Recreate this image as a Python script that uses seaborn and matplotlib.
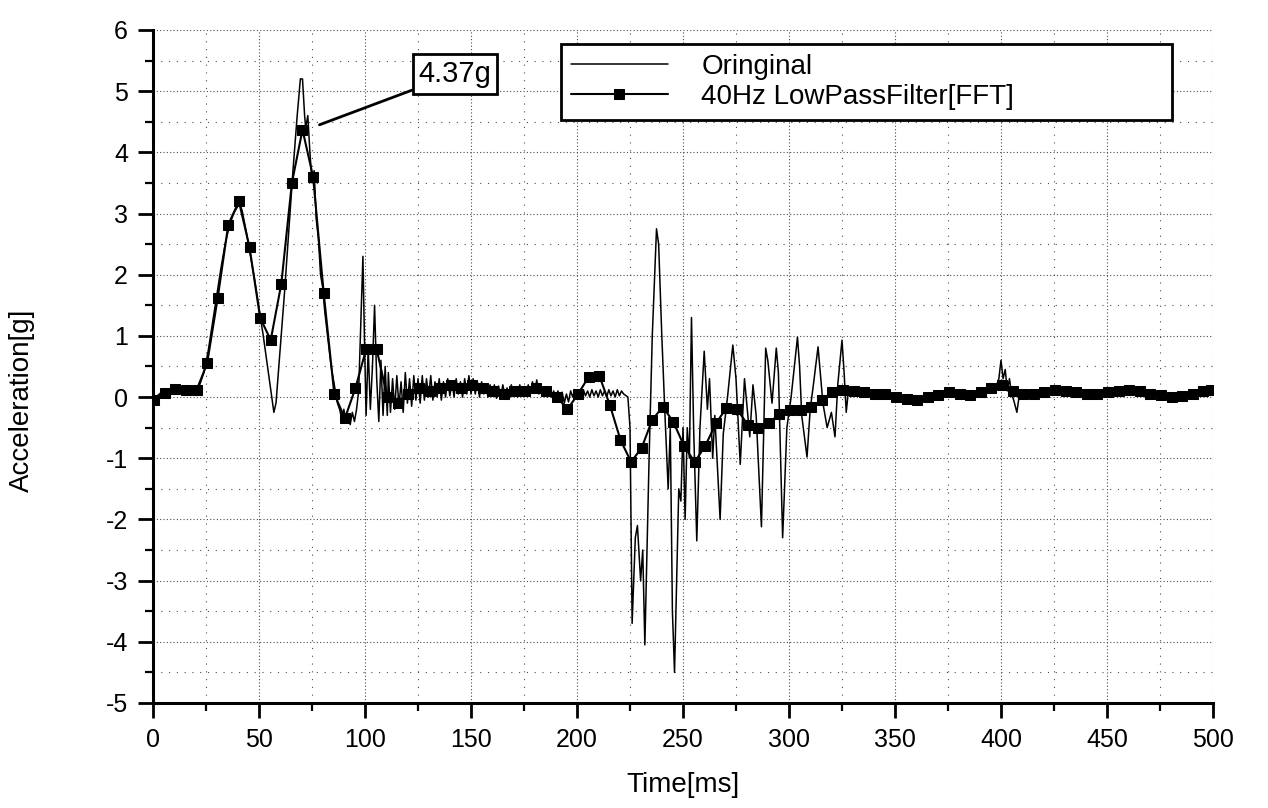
import numpy as np
import pandas as pd
import matplotlib
matplotlib.use("Agg")
import matplotlib.pyplot as plt
import seaborn as sns
from matplotlib.ticker import MultipleLocator

# ---------------- data ----------------
# Original signal, early part (0-110 ms)
early_t = [0, 1, 2, 4, 6, 8, 10, 12, 14, 16, 18, 20, 22, 24, 26, 28, 30, 32, 34, 36, 38, 40, 41, 42,
           44, 46, 48, 50, 52, 54, 56, 57, 58, 60, 62, 64, 66, 68, 69.5, 70.5, 71.5, 72, 73, 74, 75,
           76, 77, 78, 79, 80, 81, 82, 83, 84, 85, 86, 87, 88, 89, 90, 91, 92, 93, 94, 95, 96, 97,
           98, 99, 99.7, 100.5, 101.5, 102.5, 103.5, 104.5, 105.5, 106.5, 107.5, 108.5, 109.5, 110.5]
early_g = [-0.2, -0.05, 0.02, 0.08, 0.05, 0.1, 0.08, 0.12, 0.08, 0.1, 0.12, 0.12, 0.2, 0.4, 0.75,
           1.2, 1.65, 2.1, 2.5, 2.8, 3.0, 3.12, 3.15, 3.05, 2.7, 2.3, 1.9, 1.45, 1.0, 0.5, 0.0, -0.25,
           -0.1, 0.8, 1.7, 2.7, 3.7, 4.6, 5.2, 5.2, 4.6, 4.4, 4.6, 4.0, 3.5, 3.7, 2.9, 2.6, 2.0, 1.8,
           1.4, 1.1, 0.8, 0.5, 0.3, 0.1, -0.1, -0.2, -0.35, -0.2, -0.4, -0.3, -0.45, -0.25, -0.4,
           -0.2, 0.1, 1.2, 2.3, 1.0, -0.3, 0.8, -0.2, 0.5, 1.5, 0.3, -0.4, 0.6, -0.3, 0.5, -0.3]

# Original signal, ringing part (111-222 ms, 1 ms apart)
noise_t = np.arange(111, 223, 1.0)
noise_g = [0.4, -0.25, 0.3, -0.2, 0.35, -0.15, 0.25, -0.25, 0.4, -0.1, 0.3, -0.15, 0.35, -0.05, 0.3,
           -0.1, 0.35, -0.05, 0.3, 0.0,
           0.35, -0.05, 0.25, 0.0, 0.3, -0.05, 0.25, 0.0, 0.3, 0.02, 0.25, 0.0, 0.3, 0.05, 0.25, 0.0,
           0.3, 0.05, 0.35, 0.05,
           0.3, 0.05, 0.25, 0.0, 0.25, 0.05, 0.2, 0.0, 0.2, 0.05, 0.2, -0.02, 0.18, 0.0, 0.2, 0.02,
           0.15, 0.0, 0.2, 0.03,
           0.15, 0.0, 0.2, 0.05, 0.15, 0.02, 0.2, 0.05, 0.25, 0.08, 0.28, 0.05, 0.2, 0.05, 0.15, 0.0,
           0.12, 0.0, 0.1, -0.02,
           0.1, -0.05, 0.08, -0.1, 0.05, -0.08, 0.1, 0.0, 0.12, 0.02, 0.1, 0.0, 0.12, 0.02, 0.1, 0.0,
           0.12, 0.02, 0.1, 0.0,
           0.12, 0.02, 0.1, 0.0, 0.12, 0.02, 0.1, 0.0, 0.12, 0.02, 0.1, 0.05]

# Original signal, second impact (223-330 ms)
crash_t = [224, 225, 226, 227.5, 228.5, 230, 231, 232, 233, 234, 235.5, 237.5, 238.5, 240, 241.5,
           243, 244, 245, 246, 247, 248, 249, 250, 251, 252, 253, 254, 255, 256.5, 258, 260, 261.5,
           262.5, 264, 265, 267.5, 269, 271, 273.5, 275, 277, 279, 281.5, 283, 284.5, 287, 289, 290,
           292, 294, 295, 297, 299, 301, 304, 305, 306, 308.5, 310, 311.5, 313.7, 315, 316, 318, 320,
           321.7, 323, 325, 326, 327, 328, 330]
crash_g = [0.0, -0.5, -3.7, -2.3, -2.1, -3.0, -2.5, -4.05, -2.5, -1.0, 1.0, 2.75, 2.5, 1.0, -0.3,
           -1.5, -0.5, -3.5, -4.5, -3.0, -1.5, -1.7, -0.5, -2.0, -0.5, -1.0, 1.3, -0.5, -2.35, -0.5,
           0.75, -0.2, 0.3, -1.0, -0.3, -2.0, -0.6, 0.0, 0.85, 0.3, -1.1, 0.3, -0.65, 0.2, -0.3, -2.12,
           0.8, 0.6, -0.1, 0.8, 0.4, -2.3, -0.5, 0.0, 0.98, 0.5, -0.3, -0.98, -0.2, 0.2, 0.82, 0.3,
           -0.1, -0.5, -0.25, -0.65, 0.2, 0.93, 0.4, -0.25, 0.1, 0.1]

# Original signal, tail (332.5-499 ms)
late_t = [332.5, 335, 337.5, 340, 342.5, 345, 347.5, 350, 352.5, 355, 357.5, 360, 362.5, 365, 367.5,
          370, 372.5, 375, 377.5, 380, 382.5, 385, 387.5, 390, 392.5, 395, 397.5, 399, 400, 401, 402,
          403, 404, 405, 406, 407.5, 408.5, 410, 412.5, 415, 417.5, 420, 422.5, 425, 427.5, 430,
          432.5, 435, 437.5, 440, 442.5, 445, 447.5, 450, 452.5, 455, 457.5, 460, 462.5, 465, 467.5,
          470, 472.5, 475, 477.5, 480, 482.5, 485, 487.5, 490, 492.5, 495, 497.5, 499]
late_g = [0.15, 0.08, 0.12, 0.05, 0.1, 0.03, 0.08, 0.0, 0.05, -0.05, 0.0, -0.08, -0.02, 0.02, -0.03,
          0.05, 0.02, 0.1, 0.05, 0.08, 0.02, 0.06, 0.02, 0.12, 0.08, 0.2, 0.15, 0.3, 0.6, 0.3, 0.45,
          0.1, 0.3, 0.05, -0.05, -0.25, 0.0, 0.1, 0.05, 0.1, 0.05, 0.1, 0.15, 0.08, 0.14, 0.1, 0.12,
          0.06, 0.1, 0.04, 0.08, 0.03, 0.08, 0.1, 0.14, 0.1, 0.14, 0.1, 0.12, 0.08, 0.06, 0.03, 0.06,
          0.0, 0.04, 0.0, 0.03, 0.0, 0.05, 0.03, 0.08, 0.07, 0.12, 0.15]

# 40 Hz low-pass filtered signal (markers)
filt_t = [0.5, 5.5, 10.5, 15.5, 20.5, 25.5, 30.5, 35.5, 40.5, 45.5, 50.5, 55.5, 60.5, 65.5, 70.5,
          75.5, 80.5, 85.5, 90.5, 95.5, 100.5, 105.5, 110.5, 115.5, 120.5, 125.5, 130.5, 135.5,
          140.5, 145.5, 150.5, 155.5, 160.5, 165.5, 170.5, 175.5, 180.5, 185.5, 190.5, 195.5, 200.5,
          205.5, 210.5, 215.5, 220.5, 225.5, 230.5, 235.5, 240.5, 245.5, 250.5, 255.5, 260.5, 265.5,
          270.5, 275.5, 280.5, 285.5, 290.5, 295.5, 300.5, 305.5, 310.5, 315.5, 320.5, 325.5, 330.5,
          335.5, 340.5, 345.5, 350.5, 355.5, 360.5, 365.5, 370.5, 375.5, 380.5, 385.5, 390.5, 395.5,
          400.5, 405.5, 410.5, 415.5, 420.5, 425.5, 430.5, 435.5, 440.5, 445.5, 450.5, 455.5, 460.5,
          465.5, 470.5, 475.5, 480.5, 485.5, 490.5, 495.5, 499]
filt_g = [-0.05, 0.06, 0.13, 0.11, 0.11, 0.55, 1.62, 2.82, 3.2, 2.45, 1.3, 0.93, 1.85, 3.5, 4.37,
          3.6, 1.7, 0.05, -0.35, 0.15, 0.78, 0.78, 0.0, -0.1, 0.05, 0.15, 0.1, 0.15, 0.2, 0.15, 0.2,
          0.15, 0.1, 0.05, 0.1, 0.1, 0.15, 0.1, 0.0, -0.2, 0.05, 0.33, 0.35, -0.13, -0.7, -1.06,
          -0.83, -0.37, -0.16, -0.41, -0.8, -1.06, -0.8, -0.43, -0.18, -0.2, -0.45, -0.5, -0.43,
          -0.27, -0.21, -0.21, -0.17, -0.05, 0.08, 0.12, 0.1, 0.08, 0.05, 0.05, 0.0, -0.03, -0.05,
          0.0, 0.03, 0.08, 0.05, 0.03, 0.08, 0.15, 0.2, 0.1, 0.05, 0.05, 0.08, 0.12, 0.1, 0.08, 0.05,
          0.05, 0.08, 0.1, 0.12, 0.1, 0.05, 0.03, 0.0, 0.02, 0.05, 0.1, 0.12]

series_names = ["Oringinal", "40Hz LowPassFilter[FFT]"]
peak_label = "4.37g"
peak_point = (78.5, 4.45)
x_ticks = list(range(0, 501, 50))
y_ticks = list(range(-5, 7))

# ---------------- figure ----------------
sns.set_style("white")
plt.rcParams["font.family"] = ["Liberation Sans", "DejaVu Sans"]
plt.rcParams["axes.unicode_minus"] = False
plt.rcParams["text.color"] = "black"
plt.rcParams["axes.labelcolor"] = "black"
plt.rcParams["xtick.color"] = "black"
plt.rcParams["ytick.color"] = "black"

orig = pd.DataFrame({
    "t": list(early_t) + list(noise_t) + list(crash_t) + list(late_t),
    "g": list(early_g) + list(noise_g) + list(crash_g) + list(late_g),
})
filt = pd.DataFrame({"t": filt_t, "g": filt_g})

fig = plt.figure(figsize=(12.68, 8.08), dpi=100)
ax = fig.add_axes([0.1207, 0.13, 0.8359, 0.8329])

sns.lineplot(data=orig, x="t", y="g", ax=ax, color="black", lw=1.1, sort=False,
             estimator=None, label=series_names[0])
sns.lineplot(data=filt, x="t", y="g", ax=ax, color="black", lw=1.5, sort=False,
             estimator=None, marker="s", markersize=6.5, markeredgecolor="black",
             markerfacecolor="black", label=series_names[1])

ax.set_xlim(0, 500)
ax.set_ylim(-5, 6)
ax.set_xticks(x_ticks)
ax.set_yticks(y_ticks)
ax.xaxis.set_minor_locator(MultipleLocator(25))
ax.yaxis.set_minor_locator(MultipleLocator(0.5))

ax.grid(which="major", color="0.3", linestyle=(0, (1, 2)), linewidth=0.8)
ax.grid(which="minor", color="0.3", linestyle=(0, (1, 6)), linewidth=0.8)
ax.set_axisbelow(True)

for s in ["top", "right"]:
    ax.spines[s].set_visible(False)
for s in ["left", "bottom"]:
    ax.spines[s].set_linewidth(2.2)
    ax.spines[s].set_color("black")

ax.tick_params(which="major", direction="out", length=11, width=2, labelsize=18, pad=7,
               colors="black", left=True, bottom=True)
ax.tick_params(which="minor", direction="out", length=6, width=1.6, left=True, bottom=True)

ax.set_xlabel("Time[ms]", fontsize=20, color="black")
ax.set_ylabel("Acceleration[g]", fontsize=20, color="black")
ax.xaxis.set_label_coords(0.5, -0.103)
ax.yaxis.set_label_coords(-0.111, 0.45)

leg = ax.legend(loc="upper left", bbox_to_anchor=(0.385, 0.856, 0.576, 0.123), mode="expand",
                fontsize=20, frameon=True, fancybox=False, edgecolor="black", framealpha=1,
                handlelength=3.5, handletextpad=1.2, borderpad=0.35, labelspacing=0.15,
                borderaxespad=0)
leg.get_frame().set_linewidth(2)
for txt in leg.get_texts():
    txt.set_color("black")

ax.annotate(peak_label, xy=peak_point, xytext=(142.5, 5.28), ha="center", va="center",
            fontsize=21, color="black",
            bbox=dict(boxstyle="square,pad=0.2", fc="white", ec="black", lw=2),
            arrowprops=dict(arrowstyle="-", lw=2, color="black", shrinkA=0, shrinkB=0))

fig.savefig("out.png", dpi=100)
